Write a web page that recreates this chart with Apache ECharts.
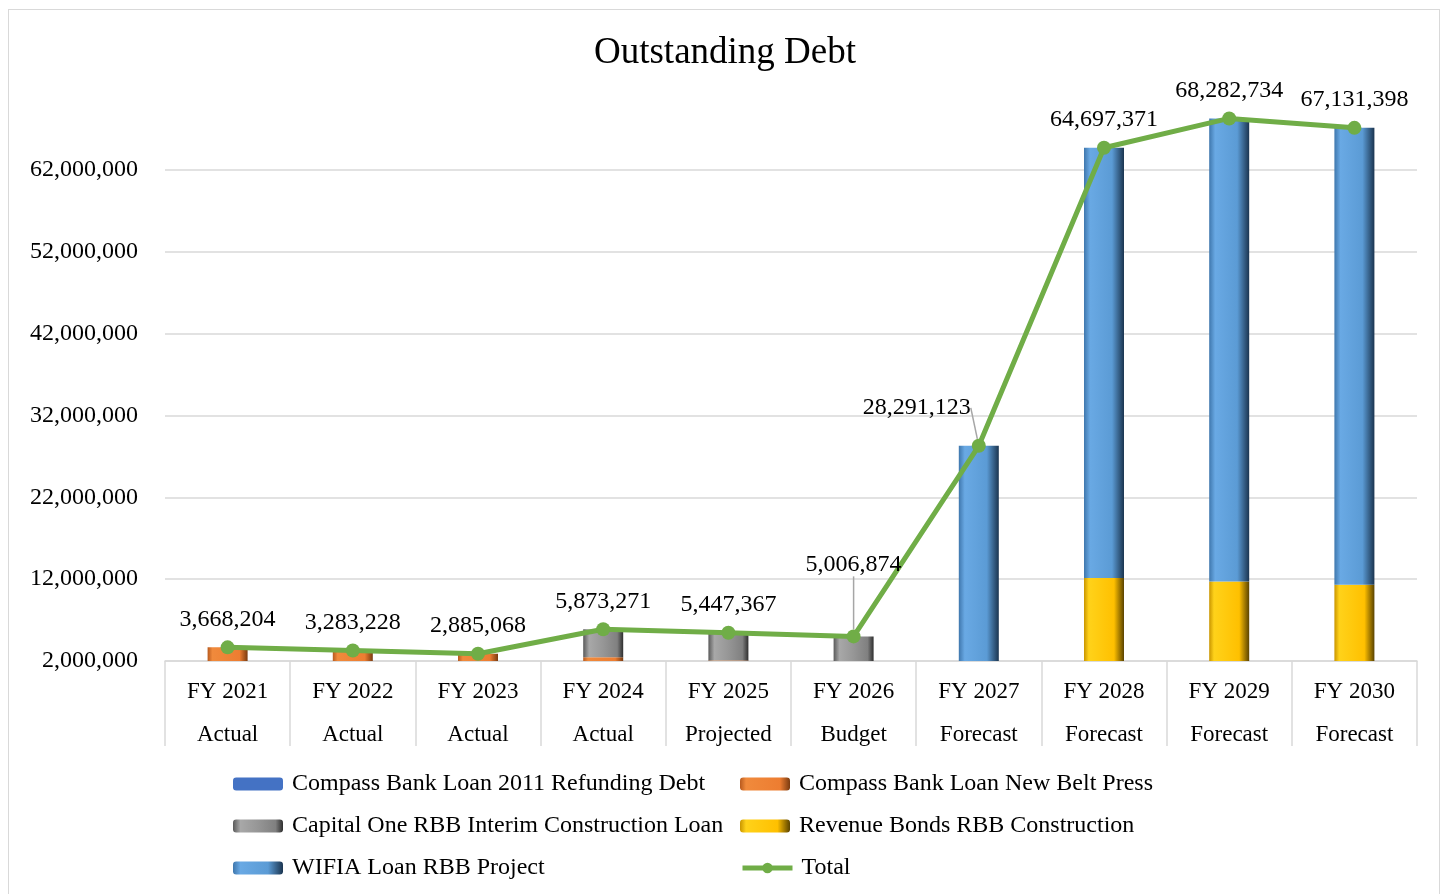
<!DOCTYPE html>
<html><head><meta charset="utf-8">
<script src="https://cdn.jsdelivr.net/npm/echarts@6/dist/echarts.min.js"></script>
<style>
html,body{margin:0;padding:0;background:#fff;}
#frame{position:absolute;left:8px;top:9px;width:1432px;height:890px;border:1px solid #d9d9d9;box-sizing:border-box;}
#chart{position:absolute;left:0;top:0;width:1450px;height:894px;}
</style></head>
<body><div id="frame"></div><div id="chart"></div>
<script>
const categories = ['FY 2021\nActual','FY 2022\nActual','FY 2023\nActual','FY 2024\nActual','FY 2025\nProjected','FY 2026\nBudget','FY 2027\nForecast','FY 2028\nForecast','FY 2029\nForecast','FY 2030\nForecast'];
const refundingDebt = [400000, 200000, 0, 0, 0, 0, 0, 0, 0, 0];
const newBeltPress = [3268204, 3083228, 2885068, 2450000, 2050000, 1650000, 0, 0, 0, 0];
const capitalOne = [0, 0, 0, 3423271, 3397367, 3356874, 0, 0, 0, 0];
const revenueBonds = [0, 0, 0, 0, 0, 0, 0, 12150000, 11700000, 11300000];
const wifia = [0, 0, 0, 0, 0, 0, 28291123, 52547371, 56582734, 55831398];
const totals = [3668204, 3283228, 2885068, 5873271, 5447367, 5006874, 28291123, 64697371, 68282734, 67131398];
const yTicks = {min: 2000000, max: 72000000, interval: 10000000};

const FONT = "'Liberation Serif','Times New Roman',serif";
function grad(stops){
  return new echarts.graphic.LinearGradient(0,0,1,0, stops.map((c)=>({offset:c[0],color:c[1]})));
}
const styles = {
  refund: {color:'#4472c4'},
  belt: {color: grad([[0,'#b85a1e'],[0.12,'#f08a3c'],[0.8,'#ed7d31'],[1,'#7a3b10']])},
  gray: {color: grad([[0,'#5a5a5a'],[0.15,'#a8a8a8'],[0.5,'#969696'],[0.85,'#808080'],[1,'#2e2e2e']])},
  yellow: {color: grad([[0,'#c99500'],[0.12,'#ffd21a'],[0.75,'#ffc000'],[1,'#5a4300']])},
  blue: {color: grad([[0,'#3f77ad'],[0.15,'#69a9e4'],[0.7,'#5b9bd5'],[1,'#1b3550']])}
};

function barSeries(name, data, st){
  return {name, type:'bar', stack:'debt', data, barWidth:40, itemStyle: Object.assign({}, st), emphasis:{disabled:true}};
}

const leaderIdx = [5, 6];
const totalData = totals.map((v,i)=> leaderIdx.includes(i)
  ? {value:v, labelLine:{show:true, lineStyle:{color:'#a6a6a6', width:1.5}}}
  : {value:v});

const chart = echarts.init(document.getElementById('chart'), null, {renderer:'canvas'});
const legendPos = [
  ['Compass Bank Loan 2011 Refunding Debt', 228, 767],
  ['Compass Bank Loan New Belt Press', 735, 767],
  ['Capital One RBB Interim Construction Loan', 228, 809],
  ['Revenue Bonds RBB Construction', 735, 809],
  ['WIFIA Loan RBB Project', 228, 851],
  ['Total', 735, 851]
];
const nTicks = Math.round((yTicks.max - yTicks.min)/yTicks.interval) + 1;
const splitColors = Array.from({length:nTicks}, (_,i)=> i===nTicks-1 ? 'rgba(0,0,0,0)' : '#d9d9d9');

chart.setOption({
  animation:false,
  title:{text:'Outstanding Debt', left:'center', top:30, textStyle:{fontFamily:FONT, fontSize:37, fontWeight:'normal', color:'#000'}},
  legend: legendPos.map(p=>({data:[p[0]], left:p[1], top:p[2], itemWidth:50, itemHeight:13, itemGap:8,
      lineStyle:{width:5}, 
      textStyle:{fontFamily:FONT, fontSize:24, color:'#000', padding:[0,0,0,4]}, selectedMode:false})),
  grid:{left:165, right:33, top:88, bottom:233, containLabel:false},
  xAxis:{type:'category', data:categories, boundaryGap:true,
    axisLine:{show:true, lineStyle:{color:'#d9d9d9', width:1.5}},
    axisTick:{show:true, length:85, lineStyle:{color:'#d9d9d9', width:1.5}},
    axisLabel:{fontFamily:FONT, fontSize:23, color:'#000', lineHeight:43, margin:9}
  },
  yAxis:{type:'value', min:yTicks.min, max:yTicks.max, interval:yTicks.interval,
    axisLine:{show:false}, axisTick:{show:false},
    splitLine:{lineStyle:{color:splitColors, width:1.5}},
    axisLabel:{fontFamily:FONT, fontSize:24, color:'#000', margin:27, showMaxLabel:false,
      formatter:v=>v.toLocaleString('en-US')}
  },
  series:[
    barSeries('Compass Bank Loan 2011 Refunding Debt', refundingDebt, styles.refund),
    barSeries('Compass Bank Loan New Belt Press', newBeltPress, styles.belt),
    barSeries('Capital One RBB Interim Construction Loan', capitalOne, styles.gray),
    barSeries('Revenue Bonds RBB Construction', revenueBonds, styles.yellow),
    barSeries('WIFIA Loan RBB Project', wifia, styles.blue),
    {name:'Total', type:'line', data:totalData, symbol:'circle', symbolSize:14,
      lineStyle:{color:'#70ad47', width:5}, itemStyle:{color:'#70ad47'},
      label:{show:true, position:'top', distance:9, fontFamily:FONT, fontSize:24, color:'#000',
        formatter:p=>p.value.toLocaleString('en-US')},
      labelLayout:function(p){
        if(p.dataIndex===5) return {dy:-44};
        if(p.dataIndex===6) return {dx:-62, dy:-10};
        return {};
      },
      emphasis:{disabled:true}, z:10}
  ]
});
</script></body></html>
